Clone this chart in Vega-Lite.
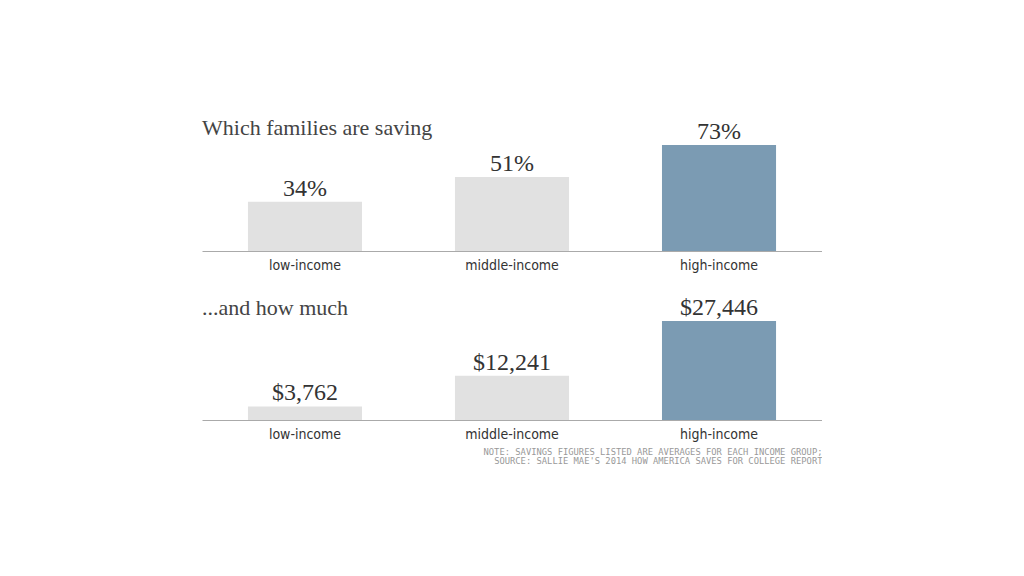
{
  "$schema": "https://vega.github.io/schema/vega-lite/v6.json",
  "padding": {"left": 202, "top": 117, "right": 0, "bottom": 0},
  "background": "#ffffff",
  "config": {
    "view": {"stroke": null},
    "axis": {
      "domainColor": "#aaaaaa",
      "domainWidth": 1,
      "ticks": false,
      "grid": false,
      "labelFont": "DejaVu Sans Condensed",
      "labelFontSize": 14,
      "labelColor": "#333333",
      "labelPadding": 7,
      "labelAngle": 0
    },
    "title": {
      "anchor": "start",
      "font": "Liberation Serif",
      "fontSize": 22,
      "fontWeight": "normal",
      "color": "#444444"
    }
  },
  "spacing": 24,
  "vconcat": [
    {
      "width": 620,
      "height": 106,
      "title": {"text": "Which families are saving", "offset": -20},
      "data": {"values": [
        {"group": "low-income", "share": 0.34},
        {"group": "middle-income", "share": 0.51},
        {"group": "high-income", "share": 0.73}
      ]},
      "encoding": {
        "x": {"field": "group", "type": "nominal", "sort": ["low-income", "middle-income", "high-income"],
              "scale": {"paddingInner": 0.449, "paddingOuter": 0.222}, "axis": {"title": null}},
        "y": {"field": "share", "type": "quantitative", "scale": {"domain": [0, 0.73], "nice": false}, "axis": null}
      },
      "layer": [
        {"mark": {"type": "bar"},
         "encoding": {"color": {"field": "group", "type": "nominal",
            "scale": {"domain": ["low-income", "middle-income", "high-income"], "range": ["#e1e1e1", "#e1e1e1", "#7b9bb3"]}, "legend": null}}},
        {"mark": {"type": "text", "baseline": "alphabetic", "dy": -6, "font": "Liberation Serif", "fontSize": 24, "color": "#333333"},
         "encoding": {"text": {"field": "share", "type": "quantitative", "format": ".0%"}}}
      ]
    },
    {
      "width": 620,
      "height": 99,
      "title": {"text": "...and how much", "offset": -24},
      "data": {"values": [
        {"group": "low-income", "amount": 3762},
        {"group": "middle-income", "amount": 12241},
        {"group": "high-income", "amount": 27446}
      ]},
      "encoding": {
        "x": {"field": "group", "type": "nominal", "sort": ["low-income", "middle-income", "high-income"],
              "scale": {"paddingInner": 0.449, "paddingOuter": 0.222},
              "axis": {"title": ["NOTE: SAVINGS FIGURES LISTED ARE AVERAGES FOR EACH INCOME GROUP;", "SOURCE: SALLIE MAE'S 2014 HOW AMERICA SAVES FOR COLLEGE REPORT"],
                       "titleAnchor": "end", "titleAlign": "right", "titleFont": "DejaVu Sans Mono", "titleFontSize": 8.8,
                       "titleFontWeight": "normal", "titleColor": "#999999", "titlePadding": 6, "titleLineHeight": 9}},
        "y": {"field": "amount", "type": "quantitative", "scale": {"domain": [0, 27446], "nice": false}, "axis": null}
      },
      "layer": [
        {"mark": {"type": "bar"},
         "encoding": {"color": {"field": "group", "type": "nominal",
            "scale": {"domain": ["low-income", "middle-income", "high-income"], "range": ["#e1e1e1", "#e1e1e1", "#7b9bb3"]}, "legend": null}}},
        {"mark": {"type": "text", "baseline": "alphabetic", "dy": -6, "font": "Liberation Serif", "fontSize": 24, "color": "#333333"},
         "encoding": {"text": {"field": "amount", "type": "quantitative", "format": "$,.0f"}}}
      ]
    }
  ]
}
